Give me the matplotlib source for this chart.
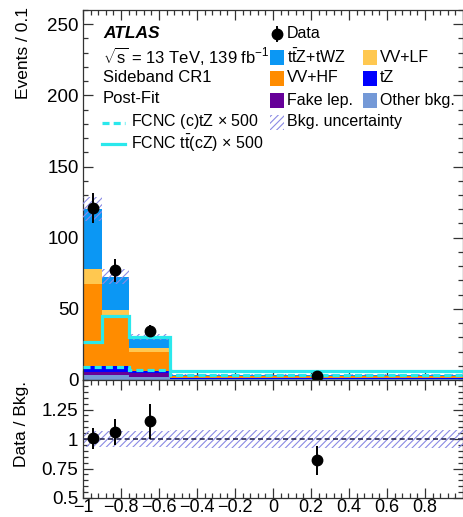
import numpy as np
import matplotlib
matplotlib.use('Agg')
import matplotlib.pyplot as plt
from matplotlib.patches import Rectangle
from matplotlib.lines import Line2D
from matplotlib.ticker import MultipleLocator, FixedLocator

plt.rcParams['font.family'] = ['Liberation Sans', 'DejaVu Sans']
plt.rcParams['mathtext.fontset'] = 'custom'
plt.rcParams['mathtext.rm'] = 'Liberation Sans'
plt.rcParams['mathtext.it'] = 'Liberation Sans:italic'
plt.rcParams['mathtext.bf'] = 'Liberation Sans:bold'
plt.rcParams['hatch.linewidth'] = 0.8

# ---- binning and yields (events / 0.1) ----
bin_edges = [-1.0, -0.9, -0.76, -0.54, 1.0]

other_bkg = [3.5, 3.5, 2.0, 0.4]
fake_lep = [2.0, 2.0, 3.0, 0.5]
tz = [4.5, 4.5, 1.5, 0.3]
vv_hf = [57.5, 36.0, 13.1, 1.6]
vv_lf = [10.5, 3.0, 2.8, 0.3]
ttz_twz = [42.3, 23.7, 7.6, 0.5]

bkg_rel_unc = [0.07, 0.07, 0.07, 0.08]

data = [121.0, 77.0, 34.5, 2.95]
data_err = [10.5, 8.3, 4.5, 0.45]

fcnc_ctz_x500 = [9.0, 9.0, 7.0, 3.5]
fcnc_ttcz_x500 = [27.0, 45.0, 30.0, 6.5]

x_ticks = [-1.0, -0.8, -0.6, -0.4, -0.2, 0.0, 0.2, 0.4, 0.6, 0.8, 1.0]
x_tick_labels = ['\u22121', '\u22120.8', '\u22120.6', '\u22120.4', '\u22120.2', '0',
                 '0.2', '0.4', '0.6', '0.8', '']
y_ticks = [0, 50, 100, 150, 200, 250]
ratio_ticks = [0.5, 0.75, 1.0, 1.25]
ratio_tick_labels = ['0.5', '0.75', '1', '1.25']

# ---- styles ----
c_ttz = '#0b97f4'
c_vvlf = '#ffc850'
c_vvhf = '#ff8c00'
c_tz = '#0000ff'
c_fake = '#660099'
c_other = '#7499d7'
c_sig = '#2ae8ec'
c_hatch = '#8a8ae4'

W, H = 464, 517
fig = plt.figure(figsize=(W / 100, H / 100), dpi=100)


def fx(px):
    return px / W


def fy(py):
    return 1 - py / H


ax = fig.add_axes([fx(83), fy(380), fx(463) - fx(83), fy(10) - fy(380)])
rax = fig.add_axes([fx(83), fy(498), fx(463) - fx(83), fy(380) - fy(498)], sharex=ax)

edges = np.array(bin_edges)
centers = 0.5 * (edges[:-1] + edges[1:])

stack = [(other_bkg, c_other), (fake_lep, c_fake), (tz, c_tz),
         (vv_hf, c_vvhf), (vv_lf, c_vvlf), (ttz_twz, c_ttz)]
bottom = np.zeros(len(centers))
for vals, col in stack:
    top = bottom + np.array(vals)
    ax.stairs(top, edges, baseline=bottom, fill=True, color=col, lw=0, zorder=2)
    bottom = top
total = bottom

unc = total * np.array(bkg_rel_unc)
ax.stairs(total + unc, edges, baseline=total - unc, fill=True, facecolor='none',
          edgecolor=c_hatch, hatch='/////', lw=0, zorder=3)

ax.stairs(fcnc_ttcz_x500, edges, baseline=None, color=c_sig, lw=2.3, zorder=4)
ax.stairs(fcnc_ctz_x500, edges, baseline=None, color=c_sig, lw=2.3,
          ls=(0, (2.2, 1.3)), zorder=4)

ax.errorbar(centers, data, yerr=data_err, fmt='o', color='black', ms=7.5,
            elinewidth=1.4, capsize=0, zorder=5)

ax.set_xlim(-1, 1)
ax.set_ylim(0, 260)
ax.yaxis.set_major_locator(FixedLocator(y_ticks))
ax.yaxis.set_minor_locator(MultipleLocator(10))
ax.set_yticklabels([str(v) for v in y_ticks])

# ---- ratio panel ----
ratio = np.array(data) / total
ratio_err = np.array(data_err) / total
rel = np.array(bkg_rel_unc)
rax.stairs(1 + rel, edges, baseline=1 - rel, fill=True, facecolor='none',
           edgecolor=c_hatch, hatch='/////', lw=0, zorder=2)
rax.axhline(1.0, color='#2a2a55', lw=1.2, ls=(0, (3, 2)), zorder=3)
rax.errorbar(centers, ratio, yerr=ratio_err, fmt='o', color='black', ms=7.5,
             elinewidth=1.4, capsize=0, zorder=5)
rax.set_ylim(0.5, 1.5)
rax.yaxis.set_major_locator(FixedLocator(ratio_ticks))
rax.set_yticklabels(ratio_tick_labels)
rax.yaxis.set_minor_locator(MultipleLocator(0.05))
rax.xaxis.set_major_locator(FixedLocator(x_ticks))
rax.xaxis.set_minor_locator(MultipleLocator(0.04))
rax.set_xticklabels(x_tick_labels)

for a in (ax, rax):
    a.tick_params(which='both', direction='in', top=True, right=True,
                  labelsize=13.5, width=0.9, color='#333333')
    a.tick_params(which='major', length=7)
    a.tick_params(which='minor', length=3.5)
    for s in a.spines.values():
        s.set_linewidth(0.9)
        s.set_color('#333333')
ax.tick_params(labelbottom=False)
ax.tick_params(axis='y', pad=3)
rax.tick_params(axis='x', pad=1, labelsize=13)

fig.text(fx(24), fy(7), 'Events / 0.1', rotation=90, ha='center', va='top', fontsize=12.5)
fig.text(fx(22), fy(381), 'Data / Bkg.', rotation=90, ha='center', va='top', fontsize=12.5)

# ---- labels and legend ----
fig.text(fx(103), fy(33), 'ATLAS', fontsize=12.5, fontweight='bold', fontstyle='italic',
         va='center', ha='left')
fig.text(fx(103), fy(56), r'$\sqrt{\mathrm{s}}$ = 13 TeV, 139 fb$^{-1}$', fontsize=12,
         va='center', ha='left')
fig.text(fx(103), fy(77), 'Sideband CR1', fontsize=12, va='center', ha='left')
fig.text(fx(103), fy(99), 'Post-Fit', fontsize=12, va='center', ha='left')

fig.add_artist(Line2D([fx(102), fx(125)], [fy(123), fy(123)], color=c_sig, lw=2.3,
                      ls=(0, (2.2, 1.3)), transform=fig.transFigure))
fig.text(fx(131), fy(122), r'FCNC (c)tZ $\times$ 500', fontsize=11.5, va='center', ha='left')
fig.add_artist(Line2D([fx(102), fx(125)], [fy(144), fy(144)], color=c_sig, lw=2.3,
                      transform=fig.transFigure))
fig.text(fx(131), fy(143), r'FCNC t$\bar{\mathrm{t}}$(cZ) $\times$ 500', fontsize=11.5,
         va='center', ha='left')

# Data entry
fig.add_artist(Line2D([fx(277), fx(277)], [fy(27), fy(41)], color='black', lw=1.4,
                      transform=fig.transFigure))
fig.add_artist(Line2D([fx(277)], [fy(34)], marker='o', ms=7.5, color='black',
                      transform=fig.transFigure))
fig.text(fx(287), fy(34), 'Data', fontsize=11.5, va='center', ha='left')

legend_entries = [
    (270, 57, c_ttz, r'$\mathrm{t\bar{t}Z}$+tWZ'),
    (363, 57, c_vvlf, 'VV+LF'),
    (270, 78, c_vvhf, 'VV+HF'),
    (363, 78, c_tz, 'tZ'),
    (270, 100, c_fake, 'Fake lep.'),
    (363, 100, c_other, 'Other bkg.'),
]
for px, py, col, lab in legend_entries:
    fig.add_artist(Rectangle((fx(px), fy(py + 7.5)), fx(14), 15 / H, facecolor=col,
                             edgecolor='none', transform=fig.transFigure))
    fig.text(fx(px + 17), fy(py), lab, fontsize=11.5, va='center', ha='left')

fig.add_artist(Rectangle((fx(270), fy(129.5)), fx(14), 15 / H, facecolor='none',
                         edgecolor=c_hatch, hatch='/////', lw=0, transform=fig.transFigure))
fig.text(fx(287), fy(122), 'Bkg. uncertainty', fontsize=11.5, va='center', ha='left')

fig.savefig('out.png', dpi=100)
